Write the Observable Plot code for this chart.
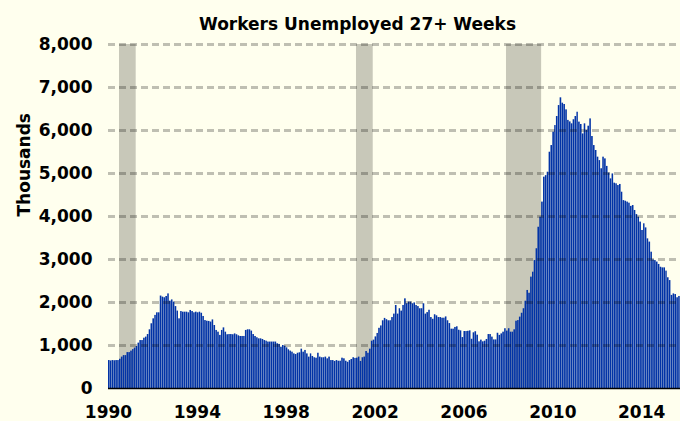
<!DOCTYPE html>
<html>
<head>
<meta charset="utf-8">
<script src="https://cdn.jsdelivr.net/npm/d3@7"></script>
<script src="https://cdn.jsdelivr.net/npm/@observablehq/plot@0.6"></script>
<style>
  html, body { margin: 0; padding: 0; background: #ffffee; }
</style>
</head>
<body>
<div id="chart"></div>
<script>
// Workers unemployed 27+ weeks, thousands, monthly (Jan..Dec) per year
const u1990 = [650, 640, 650, 645, 650, 650, 680, 730, 765, 765, 835, 835];
const u1991 = [870, 905, 940, 975, 1055, 1115, 1115, 1170, 1195, 1255, 1365, 1505];
const u1992 = [1620, 1700, 1760, 1760, 2150, 2125, 2110, 2140, 2200, 2030, 2060, 2010];
const u1993 = [1905, 1800, 1620, 1790, 1775, 1775, 1775, 1760, 1815, 1790, 1760, 1775];
const u1994 = [1760, 1775, 1750, 1675, 1580, 1565, 1560, 1545, 1595, 1465, 1350, 1310];
const u1995 = [1235, 1350, 1410, 1310, 1250, 1255, 1255, 1250, 1270, 1250, 1225, 1210];
const u1996 = [1210, 1210, 1350, 1365, 1365, 1335, 1255, 1210, 1180, 1155, 1155, 1140];
const u1997 = [1115, 1100, 1080, 1080, 1080, 1080, 1080, 1040, 1025, 960, 1000, 985];
const u1998 = [945, 900, 870, 845, 805, 790, 820, 830, 915, 845, 885, 805];
const u1999 = [730, 805, 745, 715, 705, 820, 730, 715, 715, 730, 690, 730];
const u2000 = [650, 650, 630, 650, 635, 635, 705, 690, 635, 610, 650, 675];
const u2001 = [715, 700, 705, 730, 630, 715, 730, 860, 820, 915, 1100, 1125];
const u2002 = [1200, 1280, 1400, 1455, 1575, 1630, 1600, 1575, 1575, 1650, 1730, 1930];
const u2003 = [1730, 1855, 1800, 1930, 2085, 1970, 2010, 2010, 1970, 1990, 1930, 1905];
const u2004 = [1855, 1855, 1970, 1730, 1765, 1820, 1650, 1610, 1715, 1690, 1650, 1650];
const u2005 = [1635, 1635, 1665, 1575, 1510, 1380, 1380, 1420, 1435, 1355, 1340, 1185];
const u2006 = [1325, 1325, 1330, 1340, 1145, 1295, 1320, 1240, 1085, 1125, 1085, 1100];
const u2007 = [1140, 1255, 1255, 1195, 1130, 1130, 1285, 1235, 1270, 1310, 1390, 1335];
const u2008 = [1390, 1310, 1310, 1365, 1565, 1580, 1660, 1750, 1855, 2030, 2280, 2215];
const u2009 = [2590, 2705, 2975, 3250, 3750, 3985, 4335, 4915, 4950, 5030, 5495, 5650];
const u2010 = [5960, 6115, 6325, 6580, 6760, 6635, 6605, 6480, 6235, 6200, 6155, 6250];
const u2011 = [6325, 6425, 6195, 6140, 5920, 6155, 6000, 6100, 6270, 5860, 5650, 5535];
const u2012 = [5380, 5300, 5110, 5380, 5340, 5165, 5010, 4875, 4990, 4775, 4760, 4720];
const u2013 = [4745, 4565, 4370, 4355, 4335, 4310, 4235, 4255, 4140, 4045, 3985, 3870];
const u2014 = [3675, 3830, 3735, 3480, 3405, 3170, 2990, 2975, 2940, 2885, 2820, 2805];
const u2015 = [2805, 2730, 2575, 2510, 2165, 2200, 2185, 2110, 2140];

const firstYear = 1990;
const yearlySeries = [u1990, u1991, u1992, u1993, u1994, u1995, u1996, u1997, u1998,
  u1999, u2000, u2001, u2002, u2003, u2004, u2005, u2006, u2007, u2008, u2009,
  u2010, u2011, u2012, u2013, u2014, u2015];

// Recession periods (start month, first month after end)
const recessionStart = ["1990-07-01", "2001-03-01", "2007-12-01"];
const recessionEnd = ["1991-04-01", "2001-12-01", "2009-07-01"];

const xTickYears = [1990, 1994, 1998, 2002, 2006, 2010, 2014];
const yTickValues = [0, 1000, 2000, 3000, 4000, 5000, 6000, 7000, 8000];
const gridValues = [1000, 2000, 3000, 4000, 5000, 6000, 7000, 8000];
const titleText = "Workers Unemployed 27+ Weeks";
const yLabelText = "Thousands";

const data = yearlySeries.flatMap((arr, i) => arr.map((v, m) => ({
  start: new Date(Date.UTC(firstYear + i, m, 1)),
  end: new Date(Date.UTC(firstYear + i, m + 1, 1)),
  value: v
})));
const recessions = recessionStart.map((s, i) => ({start: new Date(s), end: new Date(recessionEnd[i])}));
const lastEnd = data[data.length - 1].end;

const chart = Plot.plot({
  width: 680,
  height: 421,
  marginLeft: 108,
  marginRight: 0,
  marginTop: 44,
  marginBottom: 33,
  style: {
    background: "#ffffee",
    fontFamily: "'DejaVu Sans', Verdana, sans-serif",
    fontWeight: "bold",
    fontSize: "17px",
    color: "black"
  },
  x: {type: "utc", domain: [new Date(Date.UTC(firstYear, 0, 1)), lastEnd]},
  y: {domain: [0, 8000]},
  marks: [
    Plot.rectY(recessions, {x1: "start", x2: "end", y1: 0, y2: 8000, fill: "#c8c8b9"}),
    Plot.rectY(data, {x1: "start", x2: "end", y1: 0, y2: "value", fill: "#0233a6", insetRight: 0.28}),
    Plot.ruleY(gridValues, {stroke: "black", strokeOpacity: 0.25, strokeWidth: 3, strokeDasharray: "7,4"}),
    Plot.ruleY([0], {stroke: "black", strokeWidth: 1.5}),
    Plot.axisY({ticks: yTickValues, tickFormat: d3.format(","), tickSize: 0, tickPadding: 16, label: null}),
    Plot.axisX({ticks: xTickYears.map(y => new Date(Date.UTC(y, 0, 1))), tickFormat: d3.utcFormat("%Y"), tickSize: 0, tickPadding: 17, label: null}),
    Plot.text([titleText], {frameAnchor: "top", dx: -37, dy: -27, fontSize: 17, fontWeight: "bold"}),
    Plot.text([yLabelText], {frameAnchor: "left", dx: -84, rotate: -90, fontSize: 17, fontWeight: "bold"})
  ]
});
document.getElementById("chart").appendChild(chart);
</script>
</body>
</html>
